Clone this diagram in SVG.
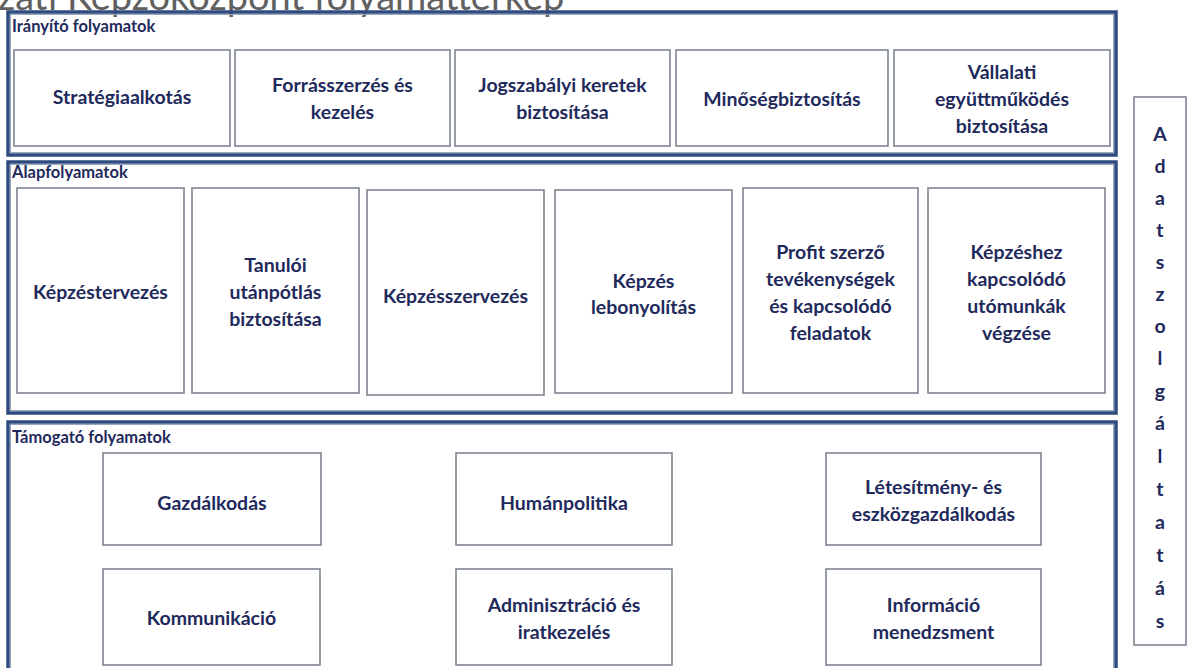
<svg xmlns="http://www.w3.org/2000/svg" width="1194" height="668" viewBox="0 0 1194 668">
<style>
.frame{fill:none;stroke:#2f4c80;stroke-width:3.5}
.frameIn{fill:none;stroke:#9aa8be;stroke-width:1}
.box{fill:#fff;stroke:#7d8590;stroke-width:1.6}
.t{font-family:Lato,"Open Sans",sans-serif;font-weight:bold;font-size:19.5px;fill:#1f2a5c;text-anchor:middle}
.lbl{font-family:Lato,"Open Sans",sans-serif;font-weight:bold;font-size:16.5px;fill:#1f2a5c}
.title{font-family:Lato,"Open Sans",sans-serif;font-size:38px;fill:#606060}
</style>
<rect width="1194" height="668" fill="#fff"/>
<text class="title" x="-2" y="10">zati Képzőközpont folyamattérkép</text>

<g id="iranyito">
<rect class="frame" x="8" y="12" width="1108" height="143"/>
<rect class="frameIn" x="10.5" y="14.5" width="1103" height="138"/>
<text class="lbl" x="12" y="32">Irányító folyamatok</text>
</g>
<g id="strategia"><rect class="box" x="14" y="50" width="216" height="96"/><text class="t" x="122" y="104">Stratégiaalkotás</text></g>
<g id="forras"><rect class="box" x="235" y="50" width="215" height="96"/><text class="t" x="342.5" y="92">Forrásszerzés és</text><text class="t" x="342.5" y="119">kezelés</text></g>
<g id="jogszabaly"><rect class="box" x="455" y="50" width="215" height="96"/><text class="t" x="562.5" y="92">Jogszabályi keretek</text><text class="t" x="562.5" y="119">biztosítása</text></g>
<g id="minoseg"><rect class="box" x="676" y="50" width="212" height="96"/><text class="t" x="782" y="106">Minőségbiztosítás</text></g>
<g id="vallalati"><rect class="box" x="894" y="50" width="216" height="96"/><text class="t" x="1002" y="79">Vállalati</text><text class="t" x="1002" y="106">együttműködés</text><text class="t" x="1002" y="133">biztosítása</text></g>

<g id="alap">
<rect class="frame" x="8" y="162" width="1108" height="251"/>
<rect class="frameIn" x="10.5" y="164.5" width="1103" height="246"/>
<text class="lbl" x="12" y="178">Alapfolyamatok</text>
</g>
<g id="kepzestervezes"><rect class="box" x="17" y="188" width="167" height="205"/><text class="t" x="100.5" y="299">Képzéstervezés</text></g>
<g id="tanuloi"><rect class="box" x="192" y="188" width="167" height="205"/><text class="t" x="275.5" y="272">Tanulói</text><text class="t" x="275.5" y="299">utánpótlás</text><text class="t" x="275.5" y="326">biztosítása</text></g>
<g id="kepzesszervezes"><rect class="box" x="367" y="190" width="177" height="205"/><text class="t" x="455.5" y="303">Képzésszervezés</text></g>
<g id="lebonyolitas"><rect class="box" x="555" y="190" width="177" height="203"/><text class="t" x="643.5" y="288">Képzés</text><text class="t" x="643.5" y="314">lebonyolítás</text></g>
<g id="profit"><rect class="box" x="743" y="188" width="175" height="205"/><text class="t" x="830.5" y="259">Profit szerző</text><text class="t" x="830.5" y="286">tevékenységek</text><text class="t" x="830.5" y="313">és kapcsolódó</text><text class="t" x="830.5" y="340">feladatok</text></g>
<g id="utomunkak"><rect class="box" x="928" y="188" width="177" height="205"/><text class="t" x="1016.5" y="259">Képzéshez</text><text class="t" x="1016.5" y="286">kapcsolódó</text><text class="t" x="1016.5" y="313">utómunkák</text><text class="t" x="1016.5" y="340">végzése</text></g>

<g id="tamogato">
<rect class="frame" x="8" y="422" width="1108" height="260"/>
<rect class="frameIn" x="10.5" y="424.5" width="1103" height="255"/>
<text class="lbl" x="12" y="443">Támogató folyamatok</text>
</g>
<g id="gazdalkodas"><rect class="box" x="103" y="453" width="218" height="92"/><text class="t" x="212" y="510">Gazdálkodás</text></g>
<g id="humanpolitika"><rect class="box" x="456" y="453" width="216" height="92"/><text class="t" x="564" y="510">Humánpolitika</text></g>
<g id="letesitmeny"><rect class="box" x="826" y="453" width="215" height="92"/><text class="t" x="933.5" y="494">Létesítmény- és</text><text class="t" x="933.5" y="521">eszközgazdálkodás</text></g>
<g id="kommunikacio"><rect class="box" x="103" y="569" width="217" height="96"/><text class="t" x="211.5" y="625">Kommunikáció</text></g>
<g id="adminisztracio"><rect class="box" x="456" y="569" width="216" height="96"/><text class="t" x="564" y="612">Adminisztráció és</text><text class="t" x="564" y="639">iratkezelés</text></g>
<g id="informacio"><rect class="box" x="826" y="569" width="215" height="96"/><text class="t" x="933.5" y="612">Információ</text><text class="t" x="933.5" y="639">menedzsment</text></g>

<g id="adatszolgaltatas">
<rect class="box" x="1134" y="97" width="52" height="548"/>
<text class="t" x="1160" y="141">A</text>
<text class="t" x="1160" y="173">d</text>
<text class="t" x="1160" y="205">a</text>
<text class="t" x="1160" y="237">t</text>
<text class="t" x="1160" y="269">s</text>
<text class="t" x="1160" y="301">z</text>
<text class="t" x="1160" y="333">o</text>
<text class="t" x="1160" y="365">l</text>
<text class="t" x="1160" y="398">g</text>
<text class="t" x="1160" y="430">á</text>
<text class="t" x="1160" y="463">l</text>
<text class="t" x="1160" y="496">t</text>
<text class="t" x="1160" y="529">a</text>
<text class="t" x="1160" y="562">t</text>
<text class="t" x="1160" y="595">á</text>
<text class="t" x="1160" y="628">s</text>
</g>
<g id="connectors"/>
</svg>
